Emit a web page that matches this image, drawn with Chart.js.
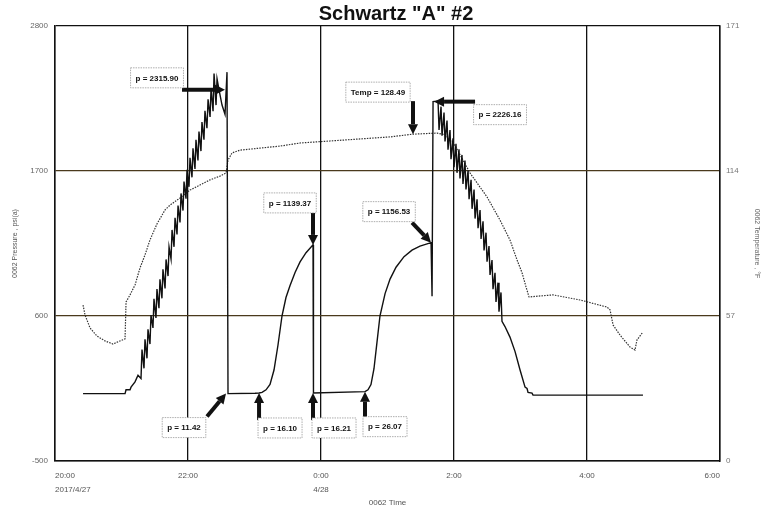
<!DOCTYPE html>
<html lang="en">
<head>
    <meta charset="UTF-8">
    <title>Schwartz "A" #2</title>
    <script src="https://cdn.jsdelivr.net/npm/chart.js@4.4.1/dist/chart.umd.min.js"></script>
    <style>
        body { margin: 0; background: #fff; }
        .chart-box { width: 765px; height: 509px; position: relative; }
    </style>
</head>
<body>
    <div class="chart-box">
        <canvas id="gaugeChart"></canvas>
    </div>

    <script>
        // Time axis in minutes after 20:00 on 2017/4/27
        const timeTicks = [0, 120, 240, 360, 480, 600];
        const timeTickLabels = [['20:00', '2017/4/27'], '22:00', ['0:00', '4/28'], '2:00', '4:00', '6:00'];
        const pressureTicks = [-500, 600, 1700, 2800];
        const tempTicks = [0, 57, 114, 171];

        // 0062 Pressure, psi(a)
        const pressureMinutes = [
            25.3, 63.2, 64.1, 67.7, 68.6, 72.2, 74.9,
            77.6, 78.5, 80.3, 81.2, 83.0, 83.9, 85.7, 86.6, 88.4, 89.3, 91.1, 92.0,
            93.8, 94.7, 96.5, 97.4, 99.3, 100.2, 102.0, 102.9, 104.7, 105.6,
            107.4, 108.3, 110.1, 111.0, 112.8, 113.7, 115.5, 116.4, 118.2, 119.1,
            120.9, 121.8, 123.6, 124.5, 126.3, 127.2, 129.0, 129.9, 131.7, 132.6,
            134.4, 135.3, 137.1, 138.1, 139.9, 140.8, 142.6, 143.5, 145.3, 146.2, 148.0,
            150.7, 153.4, 155.2, 156.1,
            180.5, 184.1, 186.8, 190.4, 194.0, 197.6, 201.2, 204.8, 208.4, 212.0, 216.6, 221.1, 226.5, 232.8, 233.2,
            279.7, 282.4, 285.1, 287.8, 290.5, 293.2, 297.8, 302.3, 307.7, 314.9, 322.1, 329.3, 339.3, 340.2, 341.1,
            345.6, 346.5, 348.3, 349.2, 351.0, 351.9, 353.7, 354.6, 356.4, 357.3, 359.1, 360.0,
            361.8, 362.7, 364.5, 365.4, 367.2, 368.1, 369.9, 370.8, 372.7, 373.6, 375.4, 376.3,
            378.1, 379.0, 380.8, 381.7, 383.5, 384.4, 386.2, 387.1, 388.9, 389.8, 391.6, 392.5,
            394.3, 395.2, 397.0, 397.9, 399.7, 400.6, 402.4, 403.3,
            406.0, 410.5, 415.1, 419.6, 424.1, 425.9, 426.8, 430.4, 431.3, 530.5
        ];
        const pressureValues = [
            11, 11, 40, 40, 60, 100, 150,
            126, 346, 203, 423, 279, 499, 387, 607, 510, 730, 585, 805,
            659, 879, 734, 954, 809, 1029, 903, 1123, 1033, 1253,
            1125, 1345, 1218, 1438, 1310, 1530, 1400, 1620, 1490, 1710,
            1580, 1800, 1652, 1872, 1716, 1936, 1780, 2000, 1851, 2071,
            1937, 2157, 2024, 2244, 2110, 2330, 2154, 2440, 2200, 2400, 2316,
            2200, 2130, 2450, 11.42,
            14, 16.1, 20, 40, 80, 190, 380, 600, 740, 830, 930, 1010, 1080, 1139.37, 16.21,
            26.07, 40, 80, 200, 400, 600, 770, 880, 970, 1050, 1100, 1130, 1156.53, 750, 2226.16,
            2231, 2011, 2188, 1968, 2144, 1924, 2082, 1862, 2010, 1790, 1948, 1728,
            1906, 1686, 1864, 1644, 1822, 1602, 1780, 1560, 1706, 1486, 1633, 1413,
            1559, 1339, 1486, 1266, 1404, 1184, 1318, 1098, 1232, 1012, 1131, 911,
            1024, 804, 927, 707, 853, 633, 779, 559,
            520, 440, 330, 190, 60, 50, 20, 15, 0, 0
        ];

        // 0062 Temperature, F
        const tempMinutes = [
            25.3, 27.1, 31.6, 37.9, 45.1, 52.3, 58.6, 63.2, 64.1, 67.7, 72.2, 76.7, 81.2, 85.7,
            92.0, 99.3, 103.8, 112.8, 121.8, 130.8, 139.9, 148.9, 154.3, 156.1, 159.7, 166.9,
            185.0, 203.0, 221.1, 248.1, 275.2, 302.3, 323.0, 344.7, 351.9, 360.9, 367.2, 374.5,
            389.8, 401.5, 410.5, 416.9, 421.4, 425.0, 427.7, 449.3, 473.7, 498.1, 500.8, 503.5,
            509.8, 518.8, 523.3, 525.1, 530.5
        ];
        const tempValues = [
            61.3, 57.4, 52.3, 49.1, 47.2, 46.0, 47.2, 48.0, 62.5, 65.3, 69.2, 75.9, 81.0, 86.9,
            93.2, 98.7, 100.6, 103.4, 106.5, 108.5, 110.5, 112.0, 113.2, 118.3, 121.1, 122.2,
            123.0, 123.8, 125.0, 125.8, 126.6, 127.4, 128.49, 128.9, 128.3, 124.0, 119.0, 113.2,
            103.8, 94.7, 86.9, 79.0, 74.0, 68.4, 64.5, 65.3, 63.3, 60.5, 59.4, 53.5,
            49.5, 44.8, 43.6, 47.6, 50.7
        ];

        // Callout boxes: point on the trace, box centre and arrow tail given as pixel offsets from that point
        const callouts = [
            { text: 'p = 2315.90', axis: 'y', t: 153.4, v: 2315.9, box: [-68, -12], tail: [-43, 0] },
            { text: 'Temp = 128.49', axis: 'y1', t: 323.0, v: 128.49, box: [-35, -42], tail: [0, -33] },
            { text: 'p = 2226.16', axis: 'y', t: 342.0, v: 2226.16, box: [66, 13], tail: [41, 0] },
            { text: 'p = 1139.37', axis: 'y', t: 232.8, v: 1139.37, box: [-23, -42], tail: [0, -32] },
            { text: 'p = 1156.53', axis: 'y', t: 339.3, v: 1156.53, box: [-42, -31], tail: [-19, -20] },
            { text: 'p = 11.42', axis: 'y', t: 154.3, v: 11.42, box: [-42, 34], tail: [-19, 23] },
            { text: 'p = 16.10', axis: 'y', t: 184.1, v: 16.1, box: [21, 35], tail: [0, 27] },
            { text: 'p = 16.21', axis: 'y', t: 232.8, v: 16.21, box: [21, 35], tail: [0, 27] },
            { text: 'p = 26.07', axis: 'y', t: 279.7, v: 26.07, box: [20, 35], tail: [0, 27] }
        ];

        const FONT = 'Arial, "Liberation Sans", sans-serif';

        function drawArrow(ctx, x1, y1, x2, y2) {
            const a = Math.atan2(y2 - y1, x2 - x1);
            const len = 10, half = 5;
            const bx = x2 - len * Math.cos(a), by = y2 - len * Math.sin(a);
            ctx.lineWidth = 4;
            ctx.beginPath();
            ctx.moveTo(x1, y1);
            ctx.lineTo(bx, by);
            ctx.stroke();
            ctx.beginPath();
            ctx.moveTo(x2, y2);
            ctx.lineTo(bx + half * Math.sin(a), by - half * Math.cos(a));
            ctx.lineTo(bx - half * Math.sin(a), by + half * Math.cos(a));
            ctx.closePath();
            ctx.fill();
        }

        const calloutPlugin = {
            id: 'callouts',
            afterDatasetsDraw(chart) {
                const ctx = chart.ctx;
                const xs = chart.scales.x;
                ctx.save();
                ctx.font = 'bold 8px ' + FONT;
                ctx.textAlign = 'center';
                ctx.textBaseline = 'middle';
                callouts.forEach(c => {
                    const px = xs.getPixelForValue(c.t);
                    const py = chart.scales[c.axis].getPixelForValue(c.v);
                    const cx = px + c.box[0], cy = py + c.box[1];
                    const w = ctx.measureText(c.text).width + 10, h = 20;
                    ctx.fillStyle = '#111';
                    ctx.strokeStyle = '#111';
                    drawArrow(ctx, px + c.tail[0], py + c.tail[1], px, py);
                    ctx.fillStyle = '#fff';
                    ctx.fillRect(cx - w / 2, cy - h / 2, w, h);
                    ctx.strokeStyle = '#999';
                    ctx.lineWidth = 0.8;
                    ctx.setLineDash([1.5, 1]);
                    ctx.strokeRect(cx - w / 2, cy - h / 2, w, h);
                    ctx.setLineDash([]);
                    ctx.fillStyle = '#111';
                    ctx.fillText(c.text, cx, cy + 0.5);
                });
                ctx.restore();
            },
            afterDraw(chart) {
                const ctx = chart.ctx;
                ctx.save();
                ctx.font = 'bold 20px ' + FONT;
                ctx.fillStyle = '#111';
                ctx.textAlign = 'center';
                ctx.textBaseline = 'middle';
                ctx.fillText('Schwartz "A" #2', 396, 14);
                ctx.restore();
            }
        };

        const whiteBg = {
            id: 'whiteBg',
            beforeDraw(chart) {
                const ctx = chart.ctx;
                ctx.save();
                ctx.fillStyle = '#fff';
                ctx.fillRect(0, 0, chart.width, chart.height);
                ctx.restore();
            }
        };

        function createChart() {
            const ctx = document.getElementById('gaugeChart').getContext('2d');
            const tickFont = { family: FONT, size: 8 };

            new Chart(ctx, {
                type: 'line',
                data: {
                    datasets: [{
                        label: '0062 Pressure',
                        data: pressureMinutes.map((m, i) => ({ x: m, y: pressureValues[i] })),
                        borderColor: '#111',
                        borderWidth: 1.4,
                        pointRadius: 0,
                        tension: 0,
                        yAxisID: 'y'
                    }, {
                        label: '0062 Temperature',
                        data: tempMinutes.map((m, i) => ({ x: m, y: tempValues[i] })),
                        borderColor: '#333',
                        borderWidth: 1.2,
                        borderDash: [1.5, 1.2],
                        pointRadius: 0,
                        tension: 0,
                        yAxisID: 'y1'
                    }]
                },
                options: {
                    responsive: true,
                    maintainAspectRatio: false,
                    animation: false,
                    layout: { padding: { top: 26, left: 0, right: 0, bottom: 0 } },
                    plugins: {
                        legend: { display: false },
                        tooltip: { enabled: false }
                    },
                    scales: {
                        x: {
                            type: 'linear',
                            min: 0,
                            max: 600,
                            afterBuildTicks: s => { s.ticks = timeTicks.map(v => ({ value: v })); },
                            afterFit: s => { s.height = 48; },
                            ticks: {
                                align: 'inner',
                                color: '#555',
                                font: { family: FONT, size: 8, lineHeight: 1.75 },
                                padding: 8,
                                maxRotation: 0,
                                callback: v => timeTickLabels[timeTicks.indexOf(v)]
                            },
                            grid: { color: '#111', lineWidth: 1.3, drawTicks: false },
                            border: { color: '#111', width: 1.5 },
                            title: {
                                display: true,
                                text: '0062 Time',
                                color: '#555',
                                font: { family: FONT, size: 8 },
                                padding: { top: 0, bottom: 1 }
                            }
                        },
                        y: {
                            position: 'left',
                            min: -500,
                            max: 2800,
                            afterBuildTicks: s => { s.ticks = pressureTicks.map(v => ({ value: v })); },
                            afterFit: s => { s.width = 55; },
                            ticks: { color: '#666', font: tickFont, padding: 7, callback: v => String(v) },
                            grid: {
                                color: c => (c.tick.value === 600 || c.tick.value === 1700) ? '#4a3a1c' : '#111',
                                lineWidth: 1.3,
                                drawTicks: false
                            },
                            border: { color: '#111', width: 1.5 },
                            title: {
                                display: true,
                                text: '0062 Pressure , psi(a)',
                                color: '#555',
                                font: { family: FONT, size: 7 },
                                padding: { top: 11, bottom: 0 }
                            }
                        },
                        y1: {
                            position: 'right',
                            min: 0,
                            max: 171,
                            afterBuildTicks: s => { s.ticks = tempTicks.map(v => ({ value: v })); },
                            afterFit: s => { s.width = 45; },
                            ticks: { color: '#777', font: tickFont, padding: 6, callback: v => String(v) },
                            grid: { drawOnChartArea: false, drawTicks: false },
                            border: { color: '#111', width: 1.5 },
                            title: {
                                display: true,
                                text: '0062 Temperature , \u00B0F',
                                color: '#666',
                                font: { family: FONT, size: 7 },
                                padding: { top: 4, bottom: 0 }
                            }
                        }
                    }
                },
                plugins: [whiteBg, calloutPlugin]
            });
        }

        window.onload = createChart;
    </script>
</body>
</html>
